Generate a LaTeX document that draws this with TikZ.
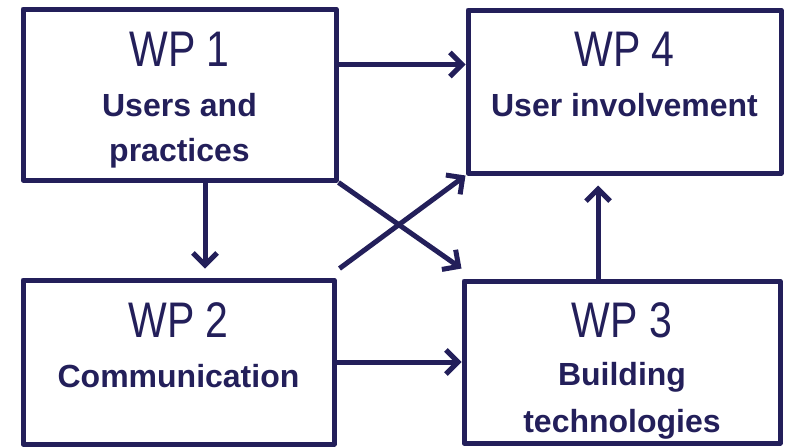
\documentclass[tikz,border=0pt]{standalone}
\usepackage{fontspec}
\setmainfont{Liberation Sans}
\newfontfamily\narrowsans[FakeStretch=0.82]{Liberation Sans}
\usetikzlibrary{arrows.meta}
\definecolor{navy}{RGB}{35,31,90}
\begin{document}
\begin{tikzpicture}[x=1pt,y=-1pt,line join=round,
	>={Straight Barb[length=12pt,width=24pt]},
	wpbox/.style={draw=navy,line width=5pt,minimum width=313pt,inner sep=0pt},
	wplabel/.style={anchor=base,text=navy,font=\narrowsans\fontsize{50}{50}\selectfont,inner sep=0pt},
	wptext/.style={anchor=base,text=navy,font=\bfseries\fontsize{32}{32}\selectfont,inner sep=0pt},
	link/.style={->,draw=navy,line width=5pt}]
	\useasboundingbox (0,0) rectangle (787,447);
	
	\node[wpbox,minimum height=171pt] (wp1) at (179.5,94.5) {};
	\node[wpbox,minimum height=163pt] (wp4) at (624.5,91.5) {};
	\node[wpbox,minimum width=311pt,minimum height=164pt] (wp2) at (178.5,362) {};
	\node[wpbox,minimum width=316pt,minimum height=162pt] (wp3) at (622,362) {};
	
	\node[wplabel] (wp1t) at ([yshift=-60pt]wp1.north) {WP 1};
	\node[wptext] (wp1a) at ([yshift=-110pt]wp1.north) {Users and};
	\node[wptext] (wp1b) at ([yshift=-155pt]wp1.north) {practices};
	\node[wplabel] (wp4t) at ([yshift=-59pt]wp4.north) {WP 4};
	\node[wptext] (wp4a) at ([yshift=-109pt]wp4.north) {User involvement};
	\node[wplabel] (wp2t) at ([yshift=-60pt]wp2.north) {WP 2};
	\node[wptext] (wp2a) at ([yshift=-110pt]wp2.north) {Communication};
	\node[wplabel] (wp3t) at ([yshift=-59pt]wp3.north) {WP 3};
	\node[wptext] (wp3a) at ([yshift=-107pt]wp3.north) {Building};
	\node[wptext] (wp3b) at ([yshift=-154pt]wp3.north) {technologies};
	
	\draw[link] ([yshift=30pt]wp1.east) -- ([yshift=27pt]wp4.west);
	\draw[link] (wp2.east) -- (wp3.west);
	\draw[link,shorten >=9pt] ([xshift=25.5pt]wp1.south) -- ([xshift=25.5pt]wp1.south |- wp2.north);
	\draw[link,shorten >=10pt] ([xshift=-24pt]wp3.north) -- ([xshift=-24pt]wp3.north |- wp4.south);
	\draw[link] (wp1.south east) -- ([yshift=10pt]wp3.north west);
	\draw[link] ([shift={(3pt,9pt)}]wp2.north east) -- (wp4.south west);
\end{tikzpicture}
\end{document}
